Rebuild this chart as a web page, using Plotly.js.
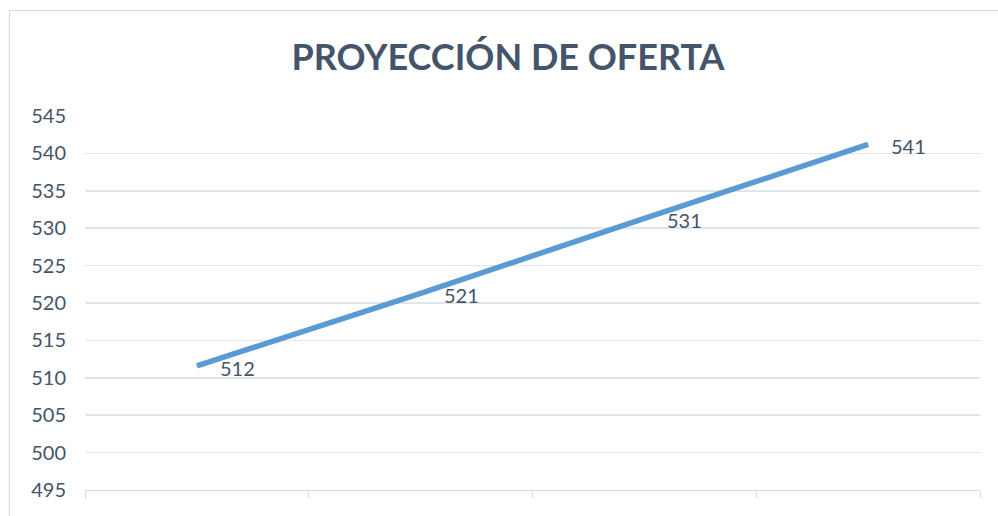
<!DOCTYPE html>
<html>
<head>
<meta charset="utf-8">
<script src="https://cdn.plot.ly/plotly-3.0.1.min.js"></script>
<style>
  html, body { margin: 0; padding: 0; background: #fff; overflow: hidden; }
  #wrap { position: relative; width: 998px; height: 516px; }
  #chart { width: 998px; height: 516px; }
  #frame { position: absolute; left: 9px; top: 10px; width: 1100px; height: 600px;
           border: 1px solid #D9D9D9; pointer-events: none; box-sizing: border-box; }
</style>
</head>
<body>
<div id="wrap">
  <div id="chart"></div>
  <div id="frame"></div>
</div>
<script>
const chartTitle = "PROYECCIÓN DE OFERTA";
const categories = ["P1", "P2", "P3", "P4"];
const oferta = [511.6, 521.3, 531.3, 541.2];
const labels = oferta.map(v => String(Math.round(v)));

const textColor = "#44546A";
const fontFam = "Lato, 'Open Sans', sans-serif";

const trace = {
  type: "scatter",
  mode: "lines",
  x: categories,
  y: oferta,
  line: { color: "#5B9BD5", width: 5.5 },
  hoverinfo: "skip",
  cliponaxis: false
};

const annotations = categories.map((c, i) => ({
  x: i, y: oferta[i], xref: "x", yref: "y",
  text: labels[i], showarrow: false,
  xanchor: "left", yanchor: "middle",
  xshift: 21, yshift: -2,
  font: { family: fontFam, size: 20, color: textColor }
}));

const layout = {
  width: 998, height: 516,
  margin: { l: 85, r: 18, t: 116, b: 26 },
  paper_bgcolor: "#ffffff",
  plot_bgcolor: "#ffffff",
  showlegend: false,
  font: { family: fontFam, color: textColor },
  title: {
    text: "<b>" + chartTitle + "</b>",
    font: { family: fontFam, size: 36, color: textColor },
    xref: "container", x: 0.509, xanchor: "center",
    yref: "container", y: 1 - 57 / 516, yanchor: "middle"
  },
  annotations: annotations,
  xaxis: {
    type: "category",
    range: [-0.5, 3.5],
    showgrid: false,
    zeroline: false,
    showline: true,
    linecolor: "#D9D9D9",
    linewidth: 1,
    ticks: "outside",
    tickson: "boundaries",
    ticklen: 7,
    tickcolor: "#D9D9D9",
    tickwidth: 1,
    showticklabels: false
  },
  yaxis: {
    range: [495, 545],
    dtick: 5,
    tick0: 495,
    showgrid: true,
    gridcolor: "#E1E4E9",
    gridwidth: 1.5,
    zeroline: false,
    showline: false,
    ticks: "",
    ticklabelstandoff: 18,
    tickfont: { family: fontFam, size: 20, color: textColor }
  }
};

Plotly.newPlot("chart", [trace], layout, { displayModeBar: false, staticPlot: true });
</script>
</body>
</html>
